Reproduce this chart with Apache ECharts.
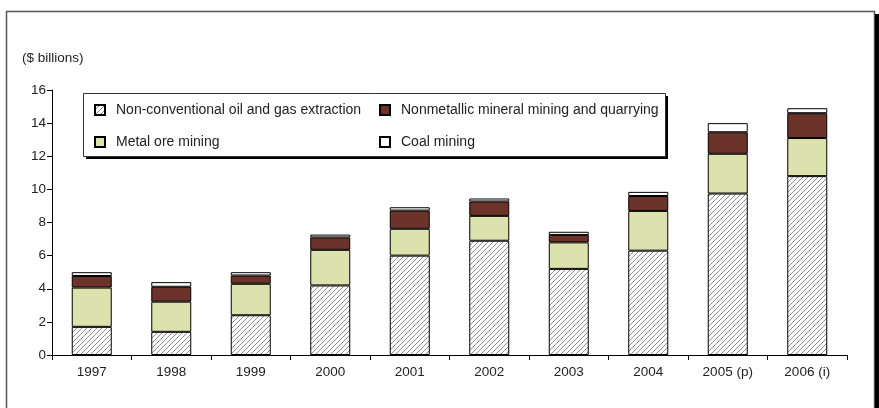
<!DOCTYPE html>
<html>
<head>
<meta charset="utf-8">
<script src="https://cdn.jsdelivr.net/npm/echarts@6/dist/echarts.min.js"></script>
<style>
  html, body { margin: 0; padding: 0; background: #fff; }
  #chart { width: 879px; height: 408px; }
</style>
</head>
<body>
<div id="chart"></div>
<script>
// categories and values ($ billions)
var years = ['1997', '1998', '1999', '2000', '2001', '2002', '2003', '2004', '2005 (p)', '2006 (i)'];
var nonConventional = [1.7, 1.4, 2.4, 4.2, 6.0, 6.9, 5.2, 6.3, 9.75, 10.8];
var metalOre = [2.37, 1.82, 1.9, 2.15, 1.62, 1.5, 1.6, 2.4, 2.4, 2.3];
var nonmetallic = [0.7, 0.9, 0.5, 0.75, 1.1, 0.87, 0.45, 0.9, 1.3, 1.5];
var coal = [0.23, 0.28, 0.2, 0.17, 0.2, 0.18, 0.19, 0.25, 0.55, 0.3];
var yTicks = [0, 2, 4, 6, 8, 10, 12, 14, 16];

var fontName = '"Liberation Sans", Arial, sans-serif';
var fontSize = 13.5;

// hatch pattern for the oil and gas bars
function makeHatch() {
  var c = document.createElement('canvas');
  c.width = 5;
  c.height = 5;
  var ctx = c.getContext('2d');
  ctx.fillStyle = '#ffffff';
  ctx.fillRect(0, 0, 5, 5);
  ctx.strokeStyle = '#8c8c8c';
  ctx.lineWidth = 1;
  ctx.beginPath();
  ctx.moveTo(-1, 6); ctx.lineTo(6, -1);
  ctx.moveTo(-6, 6); ctx.lineTo(1, -1);
  ctx.moveTo(4, 6); ctx.lineTo(11, -1);
  ctx.stroke();
  return c;
}

var chartDom = document.getElementById('chart');
var myChart = echarts.init(chartDom);

function barSeries(name, data, color) {
  return {
    name: name,
    type: 'bar',
    stack: 'total',
    barWidth: 40,
    data: data,
    itemStyle: {
      color: color,
      borderColor: '#000',
      borderWidth: 1
    },
    emphasis: { disabled: true }
  };
}

var legendText = { color: '#222', fontSize: 14, fontFamily: fontName, padding: [0, 0, 0, 6] };

var option = {
  animation: false,
  backgroundColor: '#fff',
  grid: { left: 52, right: 32, top: 90, bottom: 53 },
  legend: [
    {
      data: ['Non-conventional oil and gas extraction', 'Metal ore mining'],
      orient: 'vertical',
      left: 94,
      top: 103,
      padding: 0,
      itemGap: 18,
      itemWidth: 10,
      itemHeight: 10,
      icon: 'rect',
      selectedMode: false,
      textStyle: legendText
    },
    {
      data: ['Nonmetallic mineral mining and quarrying', 'Coal mining'],
      orient: 'vertical',
      left: 379,
      top: 103,
      padding: 0,
      itemGap: 18,
      itemWidth: 10,
      itemHeight: 10,
      icon: 'rect',
      selectedMode: false,
      textStyle: legendText
    }
  ],
  xAxis: {
    type: 'category',
    data: years,
    axisLine: { lineStyle: { color: '#000', width: 1 } },
    axisTick: { show: true, alignWithLabel: false, length: 5, lineStyle: { color: '#000' } },
    axisLabel: { color: '#222', fontSize: fontSize, fontFamily: fontName, margin: 10 }
  },
  yAxis: {
    type: 'value',
    min: 0,
    max: 16,
    interval: 2,
    axisLine: { show: true, lineStyle: { color: '#000', width: 1 } },
    axisTick: { show: true, length: 5, lineStyle: { color: '#000' } },
    axisLabel: {
      color: '#222', fontSize: fontSize, fontFamily: fontName, margin: 6,
      formatter: function (v) { return yTicks.indexOf(v) >= 0 ? String(v) : ''; }
    },
    splitLine: { show: false }
  },
  series: [
    barSeries('Non-conventional oil and gas extraction', nonConventional, { image: makeHatch(), repeat: 'repeat' }),
    barSeries('Metal ore mining', metalOre, '#dce2ad'),
    barSeries('Nonmetallic mineral mining and quarrying', nonmetallic, '#6b3329'),
    barSeries('Coal mining', coal, '#ffffff')
  ],
  graphic: [
    // outer frame
    { type: 'rect', z: -10, shape: { x: 6.5, y: 11.5, width: 868, height: 420 }, style: { fill: 'none', stroke: '#555', lineWidth: 1.5 } },
    { type: 'rect', z: -10, shape: { x: 875, y: 14, width: 4, height: 400 }, style: { fill: '#000' } },
    // legend box with hard shadow
    { type: 'rect', z: -5, shape: { x: 86, y: 96, width: 582, height: 63 }, style: { fill: '#000' } },
    { type: 'rect', z: -4, shape: { x: 83.5, y: 93.5, width: 582, height: 63 }, style: { fill: '#fff', stroke: '#333', lineWidth: 1 } },
    // unit label
    { type: 'text', left: 22, top: 51, style: { text: '($ billions)', fill: '#222', font: fontSize + 'px ' + fontName } }
  ]
};

myChart.setOption(option);
window.addEventListener('resize', function () {
  myChart.resize();
});
</script>
</body>
</html>
